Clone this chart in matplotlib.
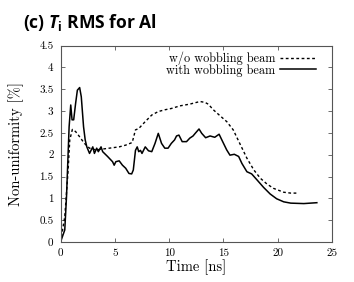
import numpy as np
import matplotlib
matplotlib.use('Agg')
import matplotlib.pyplot as plt

# datos
t_sin = [0, 0.39, 0.7, 0.85, 1.09, 1.39, 1.76, 2.2, 2.67, 3.27, 4.48, 5.4, 6.0, 6.6,
         6.9, 7.2, 7.8, 8.4, 9.0, 9.6, 10.2, 10.99, 11.9, 12.84, 13.3, 13.6, 14.07,
         14.7, 15.3, 15.9, 16.5, 17.16, 17.8, 18.4, 19.0, 19.6, 20.55, 21.2, 21.9]
nu_sin = [0, 0.58, 1.65, 2.34, 2.58, 2.53, 2.41, 2.26, 2.15, 2.11, 2.15, 2.18, 2.22, 2.28,
          2.57, 2.6, 2.76, 2.91, 2.99, 3.03, 3.06, 3.12, 3.16, 3.22, 3.2, 3.16, 3.03,
          2.89, 2.76, 2.57, 2.26, 1.92, 1.65, 1.46, 1.33, 1.23, 1.14, 1.12, 1.12]

t_con = [0, 0.39, 0.55, 0.79, 0.94, 1.06, 1.21, 1.39, 1.55, 1.76, 1.91, 2.12, 2.27, 2.42,
         2.67, 2.97, 3.12, 3.33, 3.48, 3.73, 3.88, 4.33, 4.79, 4.94, 5.09, 5.4, 5.7, 6.0,
         6.3, 6.55, 6.7, 6.9, 7.06, 7.2, 7.36, 7.5, 7.8, 8.1, 8.4, 8.7, 9.0, 9.3, 9.6,
         9.9, 10.2, 10.5, 10.68, 10.9, 11.2, 11.6, 11.9, 12.2, 12.4, 12.75, 13.0, 13.36,
         13.77, 14.2, 14.6, 14.85, 15.3, 15.6, 16.0, 16.4, 16.7, 17.16, 17.6, 18.1, 18.7,
         19.3, 19.9, 20.55, 21.2, 22.4, 23.6]
nu_con = [0, 0.275, 1.04, 2.64, 3.14, 2.8, 2.8, 3.18, 3.48, 3.54, 3.33, 2.64, 2.34, 2.18,
          2.03, 2.18, 2.03, 2.15, 2.07, 2.18, 2.07, 1.96, 1.84, 1.76, 1.84, 1.86, 1.76, 1.69,
          1.57, 1.56, 1.65, 2.1, 2.18, 2.07, 2.1, 2.03, 2.18, 2.09, 2.07, 2.26, 2.49, 2.26, 2.15,
          2.15, 2.26, 2.34, 2.43, 2.45, 2.3, 2.3, 2.38, 2.43, 2.49, 2.59, 2.49, 2.39,
          2.43, 2.4, 2.47, 2.34, 2.11, 1.99, 2.01, 1.96, 1.8, 1.61, 1.56, 1.42, 1.25,
          1.1, 0.99, 0.92, 0.89, 0.88, 0.9]

x_ticks = [0, 5, 10, 15, 20, 25]
y_ticks = [0, 0.5, 1, 1.5, 2, 2.5, 3, 3.5, 4, 4.5]

plt.rcParams['font.family'] = 'serif'
plt.rcParams['font.serif'] = ['cmr10']
plt.rcParams['axes.formatter.use_mathtext'] = False
plt.rcParams['mathtext.fontset'] = 'custom'
plt.rcParams['mathtext.rm'] = 'Open Sans:bold'
plt.rcParams['mathtext.it'] = 'Open Sans:italic:bold'

fig = plt.figure(figsize=(3.54, 2.82), dpi=100)
ax = fig.add_axes([0.171, 0.142, 0.767, 0.696])

ax.plot(t_sin, nu_sin, color='black', linestyle=(0, (2, 1.8)), linewidth=1.0,
        label='w/o wobbling beam')
ax.plot(t_con, nu_con, color='black', linestyle='-', linewidth=1.1,
        label='with wobbling beam')

ax.set_xlim(0, 25)
ax.set_ylim(0, 4.5)
ax.set_xticks(x_ticks)
ax.set_yticks(y_ticks)
ax.set_yticklabels([f'{v:g}' for v in y_ticks])
ax.set_xticklabels([str(v) for v in x_ticks])
ax.tick_params(direction='in', length=3, width=0.6, labelsize=8, pad=5,
               top=True, right=True, color='#555555')
for s in ax.spines.values():
    s.set_color('#555555')
    s.set_linewidth(0.8)

ax.set_xlabel('Time [ns]', fontsize=10.5, labelpad=1)
ax.set_ylabel('Non-uniformity [%]', fontsize=10.5, labelpad=11)

ax.legend(loc='upper right', frameon=False, markerfirst=False, fontsize=8.8,
          handlelength=3.0, handletextpad=0.4, labelspacing=-0.1,
          borderaxespad=0.1, bbox_to_anchor=(0.965, 1.0))

fig.text(0.064, 0.90, r'(c) $T_\mathrm{i}$ RMS for Al', fontsize=12.6,
         fontweight='bold', family='Open Sans', va='baseline')

fig.savefig('out.png', dpi=100)
